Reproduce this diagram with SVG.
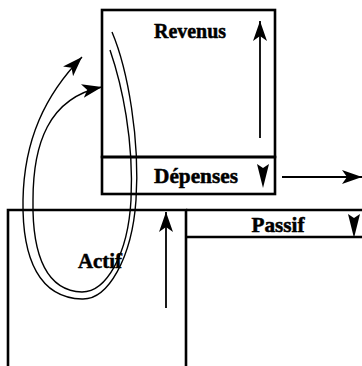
<svg xmlns="http://www.w3.org/2000/svg" width="362" height="366" viewBox="0 0 362 366">
<style>
.box{fill:none;stroke:#000;stroke-width:2.6}
.lbl{font-family:"Liberation Serif","Times New Roman",serif;font-weight:bold;font-size:21px;fill:#000;stroke:#000;stroke-width:0.5;text-anchor:middle}
.ln{fill:none;stroke:#000;stroke-width:1.8}
.loop{fill:none;stroke:#000;stroke-width:1.4}
.tri{fill:#000}
</style>
<defs>
<marker id="ah" markerWidth="22" markerHeight="14" refX="20" refY="7" orient="auto" markerUnits="userSpaceOnUse">
<path d="M0,0 L20,7 L0,14 L5,7 Z" fill="#000"/>
</marker>
</defs>
<rect width="362" height="366" fill="#fff"/>
<g id="revenus">
<rect class="box" x="102" y="10" width="173" height="147"/>
<text class="lbl" x="190" y="38" textLength="72" lengthAdjust="spacingAndGlyphs">Revenus</text>
</g>
<g id="depenses">
<rect class="box" x="102" y="157" width="173" height="37"/>
<text class="lbl" x="196" y="183" textLength="84" lengthAdjust="spacingAndGlyphs">Dépenses</text>
<path class="tri" d="M257,164 L263,168 L269,164 L263,188 Z"/>
</g>
<g id="actif">
<path class="box" d="M8,366 L8,210 L186,210 L186,366"/>
<text class="lbl" x="100" y="268" textLength="44" lengthAdjust="spacingAndGlyphs">Actif</text>
</g>
<g id="passif">
<path class="box" d="M186,210 L362,210 M186,237 L362,237"/>
<text class="lbl" x="278" y="232" textLength="53" lengthAdjust="spacingAndGlyphs">Passif</text>
<path class="tri" d="M348,214 L354,218 L360,214 L354,238 Z"/>
</g>
<g id="connectors">
<line class="ln" x1="260" y1="138" x2="260" y2="21" marker-end="url(#ah)"/>
<line class="ln" x1="282" y1="177" x2="362" y2="177" marker-end="url(#ah)"/>
<line class="ln" x1="166" y1="308" x2="166" y2="212" marker-end="url(#ah)"/>
<path class="loop" d="M112,32 C128,70 140,140 136,200 C132,258 108,300 82,299 C40,298 22,260 23,200 C24,140 45,95 82,57" marker-end="url(#ah)"/>
<path class="loop" d="M110,50 C122,85 134,140 131,200 C128,255 106,292 82,292 C48,291 32,258 33,200 C33,145 48,98 102,87" marker-end="url(#ah)"/>
</g>
</svg>
